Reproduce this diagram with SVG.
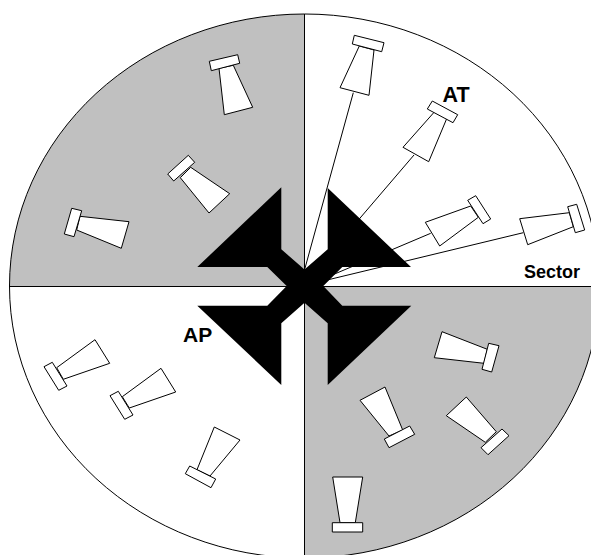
<svg xmlns="http://www.w3.org/2000/svg" width="591" height="555" viewBox="0 0 591 555">
<style>
.s{fill:#c0c0c0;stroke:none}
.a{fill:none;stroke:#000;stroke-width:1}
.c{fill:none;stroke:#000;stroke-width:1}
.h polygon{fill:#fff;stroke:#000;stroke-width:1;stroke-linejoin:miter}
.t{font-family:"Liberation Sans",Arial,sans-serif;font-weight:700;fill:#000}
</style>
<rect width="591" height="555" fill="#fff"/>
<g id="sector-circle">
<path class="s" d="M304.5 286V14A295 272 0 0 0 9.5 286Z"/>
<path class="s" d="M304.5 286H599.5A295 272 0 0 1 304.5 558Z"/>
<ellipse class="a" cx="304.5" cy="286" rx="295" ry="272"/>
<path class="c" d="M9.5 286.5H591M304.5 14V555"/>
</g>
<g id="connectors">
<path class="c" d="M353.3 92.7L304.5 270"/>
<path class="c" d="M414 155L304.5 283"/>
<path class="c" d="M430.7 233.3L318 281"/>
<path class="c" d="M523.3 232.7L323 281"/>
</g>
<g id="horn-1" class="h"><polygon points="359.3,46 374,50 369,95.3 340,87.7"/><polygon points="354.3,35.3 384,42.7 381.7,51.7 352.3,44"/></g>
<g id="horn-2" class="h"><polygon points="434.3,112 446.7,118.7 428.7,161.7 403,147.3"/><polygon points="432.3,101 457.7,114.7 453,122.7 427.3,109"/></g>
<g id="horn-3" class="h"><polygon points="470.7,206 478.3,217.3 439.7,246 425.3,222.3"/><polygon points="475.7,195.7 490.7,219 483,223.7 467.7,200.3"/></g>
<g id="horn-4" class="h"><polygon points="569.3,212.7 573.3,226.7 527.7,244.7 519.7,218.7"/><polygon points="567.7,206.7 576.7,204.3 584.7,230 575.3,232.7"/></g>
<g id="horn-5" class="h"><polygon points="219,68.3 233.3,65.3 252.7,107.3 224.3,114.7"/><polygon points="209.3,61.3 237.7,54.7 239.7,63.3 211.3,70.7"/></g>
<g id="horn-6" class="h"><polygon points="190.7,167.3 180.3,177.7 209,213 229.7,193.7"/><polygon points="188.3,155.3 194.7,162.3 173.7,181 167.7,174"/></g>
<g id="horn-7" class="h"><polygon points="80,216.3 129,221.7 121.3,248.3 76.7,230"/><polygon points="71.7,208.3 81.7,210.7 74,236.7 64.3,234"/></g>
<g id="horn-8" class="h"><polygon points="56.7,367.7 95,339.7 109.7,363.3 63.3,379.3"/><polygon points="44,366.7 52.3,362.3 67,386 58.7,390.3"/></g>
<g id="horn-9" class="h"><polygon points="122.3,396.7 161,368.3 175.7,392 129.3,408"/><polygon points="110,395.7 118.3,391.3 133,415 124.7,419.3"/></g>
<g id="horn-10" class="h"><polygon points="197,469.7 214.3,427 240,440 210,476"/><polygon points="189.7,466 215.7,479 211,487.7 185.3,473.7"/></g>
<g id="horn-11" class="h"><polygon points="442,331.7 487.3,349.3 484,363.3 434.3,357.7"/><polygon points="488.7,343.3 499,345.7 491.7,372 482,369.3"/></g>
<g id="horn-12" class="h"><polygon points="360,400.3 385,387 402.7,430 389,436"/><polygon points="384.3,439 409.7,426 414.7,434.3 389,447.7"/></g>
<g id="horn-13" class="h"><polygon points="446.3,415.7 466.3,397 496.3,431.7 485.3,442.3"/><polygon points="481,447.7 502,429 509,435.7 488,454.7"/></g>
<g id="horn-14" class="h"><polygon points="332.7,477 362.7,477 355.3,522.7 340,522.7"/><polygon points="332.3,522.7 362.7,522.7 362.7,532 332.3,532"/></g>
<g id="cross">
<polygon fill="#000" points="281.3,187.3 281.3,249.3 304.5,269.5 327.7,249.3 327.7,188 411,267 342.3,267 323.3,286 342.3,305.7 411.3,305.7 327.7,385 327.7,323.3 304.5,302.7 281.3,323.3 281.3,385 197.3,305.7 267.3,305.7 286.7,286 267.3,267 197.3,267"/>
</g>
<g id="labels">
<text class="t" x="442.5" y="101.7" font-size="21.5">AT</text>
<text class="t" x="183" y="341.7" font-size="21">AP</text>
<text class="t" x="524" y="277.7" font-size="18">Sector</text>
</g>
</svg>
